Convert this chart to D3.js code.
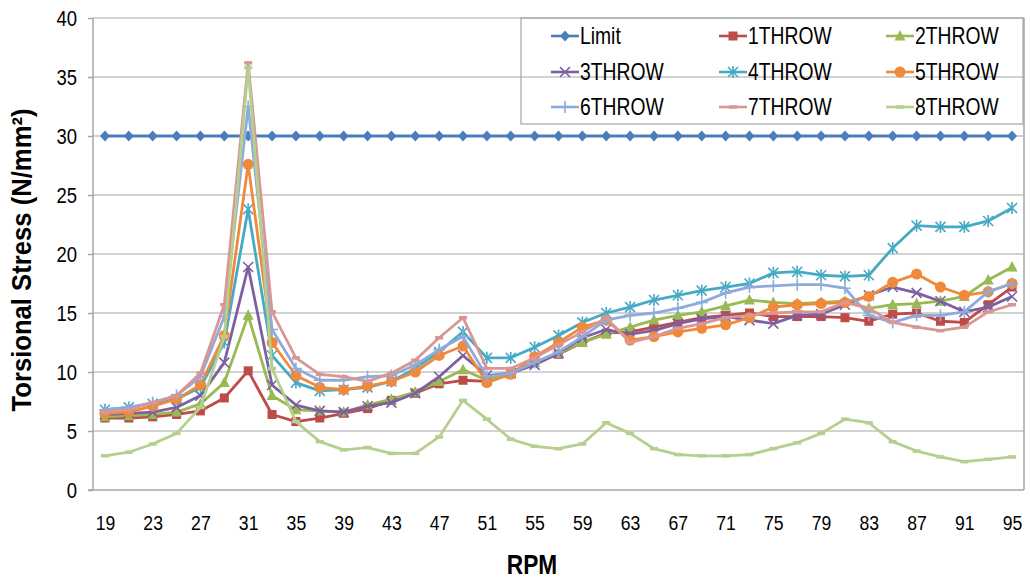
<!DOCTYPE html>
<html>
<head>
<meta charset="utf-8">
<script src="https://cdn.jsdelivr.net/npm/d3@7"></script>
<style>
  body { margin: 0; background: #fff; }
  text { font-family: "Liberation Sans Narrow", "Arial Narrow", "Liberation Sans", sans-serif; fill: #000; }
</style>
</head>
<body>
<div id="chart"></div>
<script>
// RPM categories
var rpm = [19, 21, 23, 25, 27, 29, 31, 33, 35, 37, 39, 41, 43, 45, 47, 49, 51, 53, 55, 57,
    59, 61, 63, 65, 67, 69, 71, 73, 75, 77, 79, 81, 83, 85, 87, 89, 91, 93, 95];
var xTickLabels = [19, 23, 27, 31, 35, 39, 43, 47, 51, 55, 59, 63, 67, 71, 75, 79, 83, 87, 91, 95];
var yTicks = [0, 5, 10, 15, 20, 25, 30, 35, 40];

var limit = rpm.map(function () { return 30; });
var throw1 = [6.1, 6.1, 6.2, 6.4, 6.7, 7.8, 10.1, 6.4, 5.8, 6.1, 6.5, 6.9, 7.6, 8.2, 9.0, 9.3, 9.2, 9.9, 10.8, 11.5,
    12.5, 13.3, 13.4, 13.8, 14.2, 14.6, 14.8, 15.0, 14.7, 14.7, 14.7, 14.6, 14.3, 14.9, 15.0, 14.3, 14.2, 15.7, 17.2];
var throw2 = [6.2, 6.3, 6.4, 6.6, 7.3, 9.1, 14.8, 8.0, 6.8, 6.7, 6.6, 7.2, 7.7, 8.3, 9.2, 10.2, 9.3, 10.0, 10.8, 11.6,
    12.5, 13.2, 13.8, 14.4, 14.8, 15.1, 15.6, 16.1, 15.9, 15.8, 15.9, 16.0, 15.4, 15.7, 15.8, 16.0, 16.4, 17.8, 18.9];
var throw3 = [6.4, 6.5, 6.6, 7.0, 8.0, 10.8, 18.9, 8.9, 7.2, 6.7, 6.6, 7.1, 7.4, 8.2, 9.6, 11.4, 9.7, 9.9, 10.6, 11.6,
    12.9, 13.6, 13.2, 13.5, 14.1, 14.5, 14.7, 14.4, 14.1, 14.8, 14.9, 15.7, 16.5, 17.2, 16.7, 16.0, 15.1, 15.5, 16.4];
var throw4 = [6.8, 7.0, 7.3, 7.7, 8.7, 12.5, 23.8, 11.4, 9.1, 8.4, 8.5, 8.7, 9.2, 10.3, 11.7, 13.4, 11.2, 11.2, 12.1, 13.1,
    14.2, 15.0, 15.5, 16.1, 16.5, 16.9, 17.2, 17.5, 18.4, 18.5, 18.2, 18.1, 18.2, 20.5, 22.4, 22.3, 22.3, 22.8, 23.9];
var throw5 = [6.5, 6.6, 7.1, 7.7, 8.9, 13.1, 27.6, 12.5, 9.7, 8.7, 8.5, 8.8, 9.2, 10.0, 11.4, 12.2, 9.1, 9.8, 11.3, 12.5,
    13.8, 14.4, 12.7, 13.0, 13.4, 13.7, 14.0, 14.6, 15.5, 15.7, 15.8, 15.9, 16.4, 17.6, 18.3, 17.2, 16.5, 16.8, 17.5];
var throw6 = [6.8, 7.0, 7.4, 8.0, 9.6, 14.7, 32.5, 13.6, 10.3, 9.3, 9.3, 9.6, 9.7, 10.6, 11.9, 13.0, 9.6, 9.9, 10.8, 11.7,
    13.0, 14.4, 14.8, 15.0, 15.4, 15.9, 16.7, 17.2, 17.3, 17.4, 17.4, 17.1, 14.8, 14.2, 14.8, 14.8, 15.1, 16.8, 17.5];
var throw7 = [6.6, 6.8, 7.4, 8.0, 9.9, 15.7, 36.2, 15.1, 11.2, 9.8, 9.6, 9.2, 9.9, 11.0, 12.9, 14.6, 10.3, 10.3, 11.2, 12.3,
    13.4, 14.6, 12.5, 13.0, 13.7, 14.1, 14.6, 14.8, 15.0, 15.1, 15.1, 15.9, 15.4, 14.2, 13.8, 13.5, 13.8, 15.1, 15.7];
var throw8 = [2.9, 3.2, 3.9, 4.8, 7.0, 13.0, 35.8, 10.3, 5.8, 4.1, 3.4, 3.6, 3.1, 3.1, 4.5, 7.6, 6.0, 4.3, 3.7, 3.5,
    3.9, 5.7, 4.8, 3.5, 3.0, 2.9, 2.9, 3.0, 3.5, 4.0, 4.8, 6.0, 5.7, 4.1, 3.3, 2.8, 2.4, 2.6, 2.8];

var seriesNames = ["Limit", "1THROW", "2THROW", "3THROW", "4THROW", "5THROW", "6THROW", "7THROW", "8THROW"];
var seriesValues = [limit, throw1, throw2, throw3, throw4, throw5, throw6, throw7, throw8];
var colors = ["#4a7ebb", "#be4b48", "#98b954", "#7d60a0", "#46aac5", "#f08a3a", "#8fabdc", "#d99694", "#b5d08e"];
var markers = ["diamond", "square", "triangle", "x", "asterisk", "circle", "plus", "dash", "dash"];

var width = 1030, height = 580;
var plot = { left: 93, right: 1024, top: 18, bottom: 490 };
var squeeze = 0.84; // text in the original is narrow (Calibri-like)

var svg = d3.select("#chart")
    .append("svg")
    .attr("width", width)
    .attr("height", height);

svg.append("rect").attr("width", width).attr("height", height).style("fill", "white");

var x = d3.scalePoint()
    .domain(rpm)
    .range([plot.left, plot.right])
    .padding(0.5);

var y = d3.scaleLinear()
    .domain([0, 40])
    .range([plot.bottom, plot.top]);

// gridlines
svg.selectAll(".grid")
    .data(yTicks.filter(function (d) { return d > 0; }))
    .join("line")
    .attr("class", "grid")
    .attr("x1", plot.left)
    .attr("x2", plot.right)
    .attr("y1", d => y(d))
    .attr("y2", d => y(d))
    .style("stroke", "#c3c3c3")
    .style("stroke-width", 1.4);

// axis lines + plot border on right
svg.append("line").attr("x1", plot.left).attr("x2", plot.left).attr("y1", plot.top).attr("y2", plot.bottom)
    .style("stroke", "#a6a6a6").style("stroke-width", 1.5);
svg.append("line").attr("x1", plot.right).attr("x2", plot.right).attr("y1", plot.top).attr("y2", plot.bottom)
    .style("stroke", "#a6a6a6").style("stroke-width", 1.5);
svg.append("line").attr("x1", plot.left - 5).attr("x2", plot.right).attr("y1", plot.bottom).attr("y2", plot.bottom)
    .style("stroke", "#a6a6a6").style("stroke-width", 1.5);

// y axis labels
var yAxis = d3.axisLeft(y).tickValues(yTicks).tickSize(5).tickPadding(14);
var gy = svg.append("g").attr("transform", "translate(" + plot.left + ",0)").call(yAxis);
gy.select(".domain").remove();
gy.selectAll(".tick line").style("stroke", "#a6a6a6").style("stroke-width", 1.5);
gy.selectAll(".tick text")
    .style("font-size", "22px").style("font-family", null)
    .attr("transform", "scale(" + squeeze + ",1)");

// x axis labels
var xAxis = d3.axisBottom(x).tickValues(xTickLabels).tickSize(0).tickPadding(25);
var gx = svg.append("g").attr("transform", "translate(0," + plot.bottom + ")").call(xAxis);
gx.select(".domain").remove();
gx.selectAll(".tick text")
    .style("font-size", "21px").style("font-family", null)
    .attr("transform", "scale(" + squeeze + ",1)");

// axis titles
svg.append("text")
    .attr("transform", "translate(31,260) rotate(-90) scale(0.95,1)")
    .attr("text-anchor", "middle")
    .style("font-size", "27px")
    .style("font-weight", "bold")
    .text("Torsional Stress (N/mm²)");

svg.append("text")
    .attr("transform", "translate(532,574) scale(" + squeeze + ",1)")
    .attr("text-anchor", "middle")
    .style("font-size", "27px")
    .style("font-weight", "bold")
    .text("RPM");

function drawMarker(g, type, color, cx, cy) {
    if (type === "diamond") {
        g.append("path").attr("d", "M" + cx + "," + (cy - 5.5) + "L" + (cx + 5) + "," + cy + "L" + cx + "," + (cy + 5.5) + "L" + (cx - 5) + "," + cy + "Z")
            .style("fill", color);
    } else if (type === "square") {
        g.append("rect").attr("x", cx - 4.5).attr("y", cy - 4.5).attr("width", 9).attr("height", 9).style("fill", color);
    } else if (type === "triangle") {
        g.append("path").attr("d", "M" + cx + "," + (cy - 6) + "L" + (cx + 5.5) + "," + (cy + 4.5) + "L" + (cx - 5.5) + "," + (cy + 4.5) + "Z")
            .style("fill", color);
    } else if (type === "circle") {
        g.append("circle").attr("cx", cx).attr("cy", cy).attr("r", 5.5).style("fill", color);
    } else if (type === "x" || type === "asterisk") {
        g.append("path").attr("d", "M" + (cx - 5) + "," + (cy - 5) + "L" + (cx + 5) + "," + (cy + 5) + "M" + (cx - 5) + "," + (cy + 5) + "L" + (cx + 5) + "," + (cy - 5))
            .style("stroke", color).style("stroke-width", 1.6);
        if (type === "asterisk") {
            g.append("path").attr("d", "M" + cx + "," + (cy - 6) + "L" + cx + "," + (cy + 6))
                .style("stroke", color).style("stroke-width", 1.6);
        }
    } else if (type === "plus") {
        g.append("path").attr("d", "M" + (cx - 6) + "," + cy + "L" + (cx + 6) + "," + cy + "M" + cx + "," + (cy - 6) + "L" + cx + "," + (cy + 6))
            .style("stroke", color).style("stroke-width", 1.6);
    } else if (type === "dash") {
        g.append("path").attr("d", "M" + (cx - 4) + "," + cy + "L" + (cx + 4) + "," + cy)
            .style("stroke", color).style("stroke-width", 3.5);
    }
}

var line = d3.line()
    .x(function (d, i) { return x(rpm[i]); })
    .y(function (d) { return y(d); });

seriesValues.forEach(function (vals, s) {
    var g = svg.append("g").attr("class", "series");
    g.append("path")
        .datum(vals)
        .attr("d", line)
        .style("fill", "none")
        .style("stroke", colors[s])
        .style("stroke-width", 2.8)
        .style("stroke-linejoin", "round");
    vals.forEach(function (v, i) {
        drawMarker(g, markers[s], colors[s], x(rpm[i]), y(v));
    });
});

// legend
var legend = svg.append("g");
legend.append("rect")
    .attr("x", 521).attr("y", 18).attr("width", 502).attr("height", 106)
    .style("fill", "none").style("stroke", "#a6a6a6").style("stroke-width", 1.2);

var legCols = [551, 719, 886];
var legRows = [36, 72, 107];
seriesNames.forEach(function (name, s) {
    var lx = legCols[s % 3], ly = legRows[Math.floor(s / 3)];
    var item = legend.append("g");
    item.append("line").attr("x1", lx).attr("x2", lx + 28).attr("y1", ly).attr("y2", ly)
        .style("stroke", colors[s]).style("stroke-width", 2.6);
    drawMarker(item, markers[s], colors[s], lx + 14, ly);
    item.append("text")
        .attr("transform", "translate(" + (lx + 29) + "," + (ly + 8) + ") scale(" + squeeze + ",1)")
        .style("font-size", "23px")
        .text(name);
});
</script>
</body>
</html>
